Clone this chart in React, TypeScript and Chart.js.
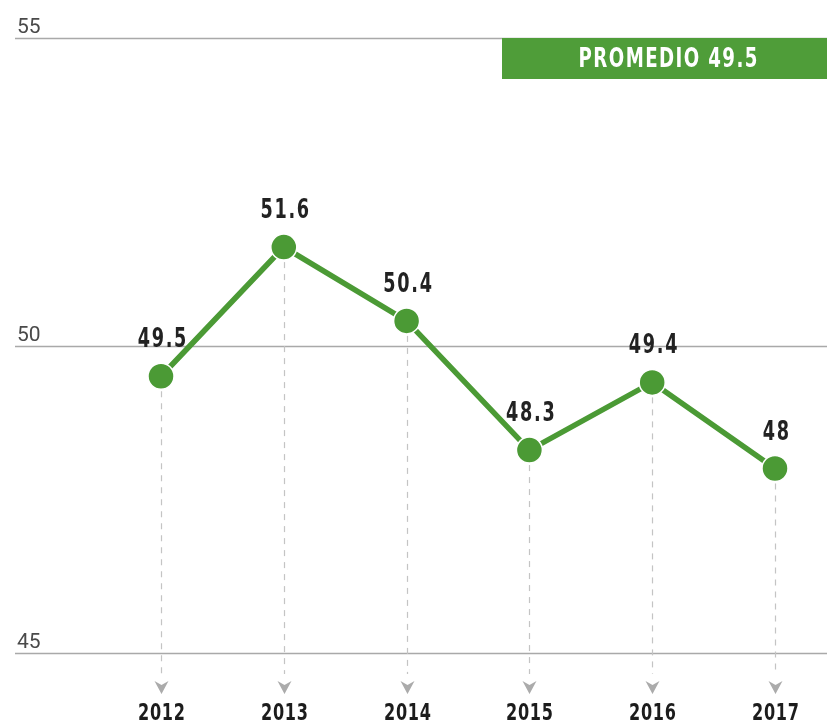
import React, { useEffect, useRef } from "react";
import { Chart, registerables } from "chart.js";

Chart.register(...registerables);

const years = ["2012", "2013", "2014", "2015", "2016", "2017"];
const values = [49.5, 51.6, 50.4, 48.3, 49.4, 48];
const valueLabels = ["49.5", "51.6", "50.4", "48.3", "49.4", "48"];
const yTicks = [45, 50, 55];
const yTickLabels = ["45", "50", "55"];
const averageLabel = "PROMEDIO 49.5";

const GREEN = "#4b9a35";
const BOX_GREEN = "#4f9d39";
const BOLD_FONT = '"DejaVu Sans", sans-serif';

function condensedText(
  ctx: CanvasRenderingContext2D,
  text: string,
  x: number,
  y: number,
  sx: number,
  spacing: number
) {
  ctx.save();
  ctx.translate(x, y);
  ctx.scale(sx, 1);
  (ctx as any).letterSpacing = spacing + "px";
  ctx.fillText(text, spacing / 2, 0);
  ctx.restore();
}

const decorPlugin = {
  id: "decor",
  beforeDatasetsDraw(chart: any) {
    const ctx = chart.ctx as CanvasRenderingContext2D;
    const yScale = chart.scales.y;
    const xScale = chart.scales.x;
    const W = chart.width;
    const H = chart.height;
    ctx.save();
    yTicks.forEach((t, i) => {
      const y = Math.round(yScale.getPixelForValue(t)) + 0.5;
      ctx.strokeStyle = "#a9a9a9";
      ctx.lineWidth = 1.6;
      ctx.beginPath();
      ctx.moveTo(15, y);
      ctx.lineTo(W, y);
      ctx.stroke();
      ctx.fillStyle = "#4a4a4a";
      ctx.font = '400 21px Roboto, "Liberation Sans", sans-serif';
      ctx.textAlign = "left";
      ctx.textBaseline = "alphabetic";
      ctx.fillText(yTickLabels[i], 17, y - 6);
    });
    const meta = chart.getDatasetMeta(0);
    const bottomY = yScale.getPixelForValue(45);
    years.forEach((yr, i) => {
      const pt = meta.data[i];
      const x = Math.round(xScale.getPixelForValue(i)) + 0.5;
      ctx.strokeStyle = "#c4c4c4";
      ctx.lineWidth = 1.2;
      ctx.setLineDash([6, 6]);
      ctx.beginPath();
      ctx.moveTo(x, pt.y + 15);
      ctx.lineTo(x, bottomY + 21);
      ctx.stroke();
      ctx.setLineDash([]);
      const top = bottomY + 28;
      ctx.fillStyle = "#ababab";
      ctx.beginPath();
      ctx.moveTo(x - 7, top);
      ctx.lineTo(x, top + 4);
      ctx.lineTo(x + 7, top);
      ctx.lineTo(x, top + 13);
      ctx.closePath();
      ctx.fill();
      ctx.fillStyle = "#1c1c1c";
      ctx.font = "bold 23px " + BOLD_FONT;
      ctx.textAlign = "center";
      ctx.textBaseline = "alphabetic";
      condensedText(ctx, yr, x, H - 1, 0.7, 1);
    });
    const boxTop = yScale.getPixelForValue(55);
    ctx.fillStyle = BOX_GREEN;
    ctx.fillRect(502, boxTop, W - 502, 41);
    ctx.fillStyle = "#ffffff";
    ctx.font = "bold 26px " + BOLD_FONT;
    ctx.textAlign = "center";
    ctx.textBaseline = "alphabetic";
    condensedText(ctx, averageLabel, 668, boxTop + 29, 0.7, 2);
    ctx.restore();
  },
  afterDatasetsDraw(chart: any) {
    const ctx = chart.ctx as CanvasRenderingContext2D;
    const meta = chart.getDatasetMeta(0);
    ctx.save();
    ctx.fillStyle = "#222222";
    ctx.font = "bold 26px " + BOLD_FONT;
    ctx.textAlign = "center";
    ctx.textBaseline = "alphabetic";
    valueLabels.forEach((lbl, i) => {
      const pt = meta.data[i];
      condensedText(ctx, lbl, pt.x + 1, pt.y - 29, 0.68, 2.5);
    });
    ctx.restore();
  },
};

export default function App() {
  const ref = useRef<HTMLCanvasElement | null>(null);
  useEffect(() => {
    if (!ref.current) return;
    const chart = new Chart(ref.current, {
      type: "line",
      data: {
        labels: years,
        datasets: [
          {
            data: values,
            borderColor: GREEN,
            backgroundColor: GREEN,
            borderWidth: 5.5,
            pointRadius: 13,
            pointBorderWidth: 1.5,
            pointBorderColor: "#ffffff",
            pointBackgroundColor: GREEN,
            tension: 0,
            clip: false as any,
          },
        ],
      },
      options: {
        animation: false,
        responsive: true,
        maintainAspectRatio: false,
        layout: { padding: { left: 161, right: 52, top: 38, bottom: 68 } },
        plugins: { legend: { display: false }, tooltip: { enabled: false } },
        scales: {
          x: { type: "category", display: false, offset: false },
          y: { type: "linear", display: false, min: 45, max: 55 },
        },
      },
      plugins: [decorPlugin],
    });
    return () => chart.destroy();
  }, []);
  return (
    <div style={{ position: "fixed", left: 0, top: 0, width: 827, height: 721, background: "#fff" }}>
      <canvas ref={ref} />
    </div>
  );
}
